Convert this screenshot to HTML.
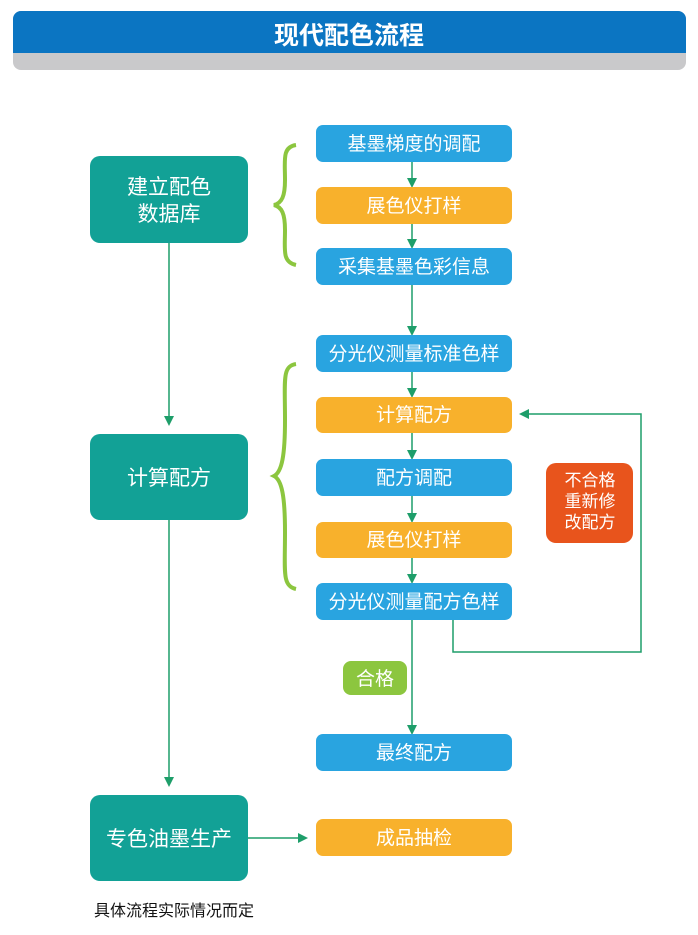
<!DOCTYPE html>
<html><head><meta charset="utf-8"><style>
body{margin:0;background:#fff;}
svg text{font-family:"Liberation Sans","Noto Sans CJK SC",sans-serif;}
</style></head><body>
<svg width="698" height="930" viewBox="0 0 698 930" xmlns="http://www.w3.org/2000/svg">
<defs><marker id="a" markerWidth="10" markerHeight="10" refX="8" refY="5" orient="auto" markerUnits="userSpaceOnUse"><path d="M0,0 L10,5 L0,10 z" fill="#1e9e6a"/></marker></defs>
<rect x="13" y="11" width="673" height="59" rx="8" fill="#c9c9cb"/>
<path d="M13,53 V19 a8,8 0 0 1 8,-8 H678 a8,8 0 0 1 8,8 V53 z" fill="#0b75c2"/>
<text x="349" y="44" font-size="25" font-weight="bold" fill="#fff" text-anchor="middle">现代配色流程</text>
<g fill="#12a196">
<rect x="90" y="156" width="158" height="87" rx="10"/>
<rect x="90" y="434" width="158" height="86" rx="10"/>
<rect x="90" y="795" width="158" height="86" rx="10"/>
</g>
<g fill="#fff" font-size="21" text-anchor="middle">
<text x="169" y="194">建立配色</text><text x="169" y="221">数据库</text>
<text x="169" y="485">计算配方</text>
<text x="169" y="846">专色油墨生产</text>
</g>
<g fill="none" stroke="#8cc63f" stroke-width="4">
<path d="M296,145 C282,147 285,160 285,180 C285,196 282,203 274,205 C282,207 285,214 285,230 C285,250 282,262 296,265"/>
<path d="M296,364 C282,366 285,380 285,420 C285,455 282,472 274,476 C282,480 285,497 285,532 C285,572 282,586 296,589"/>
</g>
<g stroke="#1e9e6a" stroke-width="1.5" fill="none">
<line x1="169" y1="243" x2="169" y2="424" marker-end="url(#a)"/>
<line x1="169" y1="520" x2="169" y2="785" marker-end="url(#a)"/>
<line x1="248" y1="838" x2="306" y2="838" marker-end="url(#a)"/>
<line x1="412" y1="162" x2="412" y2="186" marker-end="url(#a)"/>
<line x1="412" y1="224" x2="412" y2="247" marker-end="url(#a)"/>
<line x1="412" y1="285" x2="412" y2="334" marker-end="url(#a)"/>
<line x1="412" y1="372" x2="412" y2="396" marker-end="url(#a)"/>
<line x1="412" y1="433" x2="412" y2="458" marker-end="url(#a)"/>
<line x1="412" y1="496" x2="412" y2="521" marker-end="url(#a)"/>
<line x1="412" y1="558" x2="412" y2="582" marker-end="url(#a)"/>
<line x1="412" y1="620" x2="412" y2="733" marker-end="url(#a)"/>
<path d="M453,620 V652 H641 V414 H521" marker-end="url(#a)"/>
</g>
<g>
<rect x="316" y="125" width="196" height="37" rx="7" fill="#29a4e0"/>
<rect x="316" y="187" width="196" height="37" rx="7" fill="#f8b12c"/>
<rect x="316" y="248" width="196" height="37" rx="7" fill="#29a4e0"/>
<rect x="316" y="335" width="196" height="37" rx="7" fill="#29a4e0"/>
<rect x="316" y="397" width="196" height="36" rx="7" fill="#f8b12c"/>
<rect x="316" y="459" width="196" height="37" rx="7" fill="#29a4e0"/>
<rect x="316" y="522" width="196" height="36" rx="7" fill="#f8b12c"/>
<rect x="316" y="583" width="196" height="37" rx="7" fill="#29a4e0"/>
<rect x="316" y="734" width="196" height="37" rx="7" fill="#29a4e0"/>
<rect x="316" y="819" width="196" height="37" rx="7" fill="#f8b12c"/>
<rect x="546" y="463" width="87" height="80" rx="10" fill="#e8541c"/>
<rect x="343" y="661" width="64" height="34" rx="8" fill="#8cc63f"/>
</g>
<g fill="#fff" font-size="19" text-anchor="middle">
<text x="414" y="150">基墨梯度的调配</text>
<text x="414" y="212">展色仪打样</text>
<text x="414" y="273">采集基墨色彩信息</text>
<text x="414" y="360">分光仪测量标准色样</text>
<text x="414" y="421">计算配方</text>
<text x="414" y="484">配方调配</text>
<text x="414" y="546">展色仪打样</text>
<text x="414" y="608">分光仪测量配方色样</text>
<text x="414" y="759">最终配方</text>
<text x="414" y="844">成品抽检</text>
<text x="375" y="685">合格</text>
</g>
<g fill="#fff" font-size="17" text-anchor="middle">
<text x="590" y="486">不合格</text><text x="590" y="507">重新修</text><text x="590" y="528">改配方</text>
</g>
<text x="94" y="916" font-size="16" fill="#111">具体流程实际情况而定</text>
</svg>
</body></html>
